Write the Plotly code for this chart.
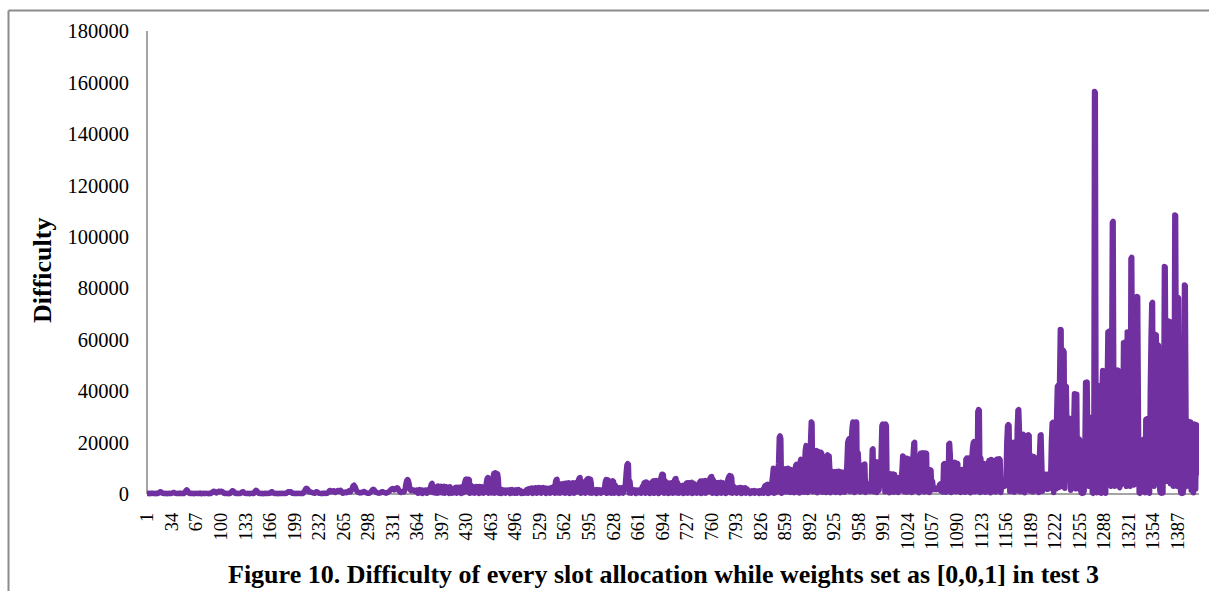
import plotly.graph_objects as go

# ---------------- data ----------------
tick_labels = ["1", "34", "67", "100", "133", "166", "199", "232", "265", "298", "331",
               "364", "397", "430", "463", "496", "529", "562", "595", "628", "661",
               "694", "727", "760", "793", "826", "859", "892", "925", "958", "991",
               "1024", "1057", "1090", "1123", "1156", "1189", "1222", "1255", "1288",
               "1321", "1354", "1387"]

y_ticks = [0, 20000, 40000, 60000, 80000, 100000, 120000, 140000, 160000, 180000]

difficulty = [
    # 1-33
    200,150,300,250,100,200,350,300,150,250,200,100,300,250,200,350,600,800,900,700,400,250,200,150,300,200,250,100,200,300,250,150,200,
    # 34-66
    300,450,600,500,400,250,200,150,300,200,250,350,200,150,300,250,200,400,800,1400,1600,1300,700,300,200,250,150,300,200,250,100,200,300,
    # 67-99
    250,200,150,300,200,350,250,100,200,300,250,150,200,300,250,200,100,250,300,200,350,600,900,1100,1000,800,500,400,600,900,1000,1100,900,
    # 100-132
    1000,1100,900,600,300,200,250,150,300,200,250,100,200,350,800,1200,1300,1100,600,300,200,250,150,300,200,250,200,300,700,900,800,500,300,
    # 133-165
    250,200,150,300,200,250,100,200,300,250,200,150,600,1100,1400,1300,900,400,250,200,150,300,200,250,100,200,300,250,150,200,300,250,200,
    # 166-198
    300,600,900,800,500,300,200,150,300,200,250,100,200,300,250,150,200,300,250,200,150,250,300,600,800,900,700,800,900,600,300,250,200,
    # 199-231
    300,200,250,150,200,300,250,200,150,300,250,200,400,900,1500,2000,2200,2000,1700,1000,800,900,700,600,500,400,350,300,500,800,900,700,400,
    # 232-264
    300,250,200,150,300,200,250,350,300,200,250,300,500,900,1300,1400,1200,900,1100,1300,1200,800,600,900,1200,1400,1300,1000,1300,1400,1100,600,300,
    # 265-297
    400,600,800,700,500,600,900,1200,1000,800,1200,1800,2600,3200,3400,3000,2400,1500,1000,800,600,500,400,600,500,700,800,1000,900,700,500,400,300,
    # 298-330
    300,250,400,600,900,1300,1700,1800,1600,1200,800,600,500,400,350,300,400,600,800,900,800,600,500,400,300,400,600,800,1000,1200,1500,1800,2000,
    # 331-363
    2100,1900,1600,1800,2100,2300,2400,2200,1600,1000,700,600,800,1000,900,800,1200,2500,4200,5300,5600,5200,4000,2200,1500,1300,1400,1600,1500,1200,1000,1300,1500,
    # 364-396
    1400,300,1500,1700,500,1400,1500,200,1400,1200,600,1500,1400,300,1500,1300,800,1800,2800,3800,4100,600,2900,2000,400,2000,2600,300,3100,2900,500,2900,3000,
    # 397-429
    2800,400,2900,3000,300,2500,2800,600,2600,2400,200,2800,2200,1200,300,1100,1600,500,2400,2600,300,2300,2600,700,2500,2400,200,2800,2700,500,3200,4600,5600,
    # 430-462
    5800,5600,800,5700,5500,300,3500,2200,500,2400,2800,300,2700,2900,600,2800,2600,200,2900,2700,500,2800,2500,300,1800,2200,700,4500,6000,6400,300,5800,4000,
    # 463-495
    3000,400,4000,6500,8000,300,8300,8100,600,7900,6000,300,2000,1600,200,1700,1400,500,1500,1300,300,1500,1400,800,1500,1600,200,1500,1700,400,1400,1500,300,
    # 496-528
    1500,1600,300,1500,1700,600,1400,1300,200,900,800,300,900,1100,400,1600,1800,300,1900,2100,700,2000,2300,200,2200,2100,500,2400,2200,300,2300,2500,600,
    # 529-561
    2400,2300,300,2300,2500,800,2200,2300,200,2000,2200,500,1800,2200,300,2400,2200,700,2800,3000,300,4800,5600,5700,400,4200,3200,300,3400,3800,600,3900,4100,
    # 562-594
    4000,300,4100,4200,700,4000,4300,200,3800,4000,500,4400,4100,300,4000,4300,800,4000,4500,5500,6200,6400,300,5000,4000,600,3500,3200,300,4500,5600,5900,6000,
    # 595-627
    5900,400,5700,4200,300,1800,1600,600,1400,1600,200,1700,1500,500,1600,1500,300,1500,1400,700,1700,2500,4800,5600,300,5500,5300,600,3500,3800,300,5000,5100,
    # 628-660
    4800,300,3500,3000,600,2400,2300,200,2400,2300,500,2300,2500,300,2300,2600,4000,8000,11200,11800,11500,400,5000,2500,300,1600,1500,700,1600,1500,200,1500,1400,
    # 661-693
    1500,500,1400,1500,300,2200,3000,800,4300,4500,300,4700,4500,600,4200,3800,200,3900,4400,500,5000,5100,300,5000,5200,700,4900,5100,200,4800,5200,6500,7600,
    # 694-726
    7700,7400,300,5200,4800,600,4300,4200,200,4300,4100,500,4400,4300,300,4500,5200,5900,6000,400,4500,3500,300,3000,3100,700,3100,3300,200,3200,3400,500,4200,
    # 727-759
    4300,300,4400,4300,600,4300,4500,200,4300,4100,500,3000,2800,300,3400,3800,700,4600,5000,200,5100,5000,500,5000,5200,300,5000,5100,800,5000,5500,6200,6700,
    # 760-792
    6800,300,5600,4800,500,4200,4300,200,4300,4400,600,4300,4500,300,4200,4300,700,3800,3500,200,3600,4500,5800,6700,7100,500,7000,6200,300,3200,2500,600,2400,
    # 793-825
    2200,300,2300,2100,700,2500,2200,200,2400,2200,500,2300,2400,300,2100,1800,600,1200,1000,200,900,1200,500,1100,1300,300,900,1100,700,1000,1100,200,1200,
    # 826-858
    1100,400,1500,1800,300,2800,3300,600,3500,3700,200,3400,3600,500,3500,4500,7000,10000,300,9800,8000,600,5500,7000,12000,22000,22600,21500,300,9000,9500,800,9200,
    # 859-891
    9800,9200,800,9500,10000,1200,9600,600,9400,7200,1500,6800,500,9000,11000,11500,900,11200,10800,400,12500,13500,1100,13400,13200,700,12000,17000,18800,18500,600,12000,1300,
    # 892-924
    12000,20000,28000,27500,900,17000,16800,1200,16500,16800,500,16600,16400,1400,16000,16200,15800,700,1000,800,5000,8000,600,14800,15200,1300,14800,9000,500,8400,8800,1100,8500,
    # 925-957
    8600,8200,600,8700,8500,1000,8800,8400,500,8600,8300,1400,8500,8200,700,3000,6000,12000,20000,21000,21500,1000,20800,21200,26000,28000,27800,600,27600,28000,27900,1200,16000,
    # 958-990
    10800,11000,800,10900,10600,1300,11200,11500,11600,600,4000,3000,1500,3800,3500,1000,3700,6000,17200,17500,900,12000,12200,12500,600,12400,12300,1400,4000,6000,15000,26500,27200,
    # 991-1023
    27000,26800,900,27200,26500,1200,8000,7600,500,7400,7800,1300,7500,7700,700,7600,6000,1100,6300,6100,600,6400,6200,1400,6300,9000,14800,14500,900,13800,13600,700,13900,
    # 1024-1056
    13800,13300,1000,13200,13400,600,13100,15000,19800,20100,1200,15000,9000,13800,14000,500,7000,15800,15600,1300,16000,15700,800,15900,15500,15800,1100,9300,9100,600,9400,9200,1500,
    # 1057-1089
    5000,2500,1800,2200,2000,1700,2300,2100,1900,3000,3800,1200,4100,3900,800,11500,11800,11200,700,11600,12000,1300,19400,19700,15000,600,12000,12200,1000,11900,12300,12100,900,
    # 1090-1122
    12000,11800,1000,7600,7400,600,8000,9500,1200,9300,9600,700,13500,13900,1400,14000,13700,13600,500,9000,14000,18000,20000,20400,900,15000,8000,1300,32000,32800,32500,600,14000,
    # 1123-1155
    10000,1000,9500,10200,11800,700,9800,10500,1300,11500,13000,12800,500,13400,13200,13000,1100,12500,6000,800,13400,13600,13500,1400,13700,13300,600,3500,3200,3600,3400,3000,3300,
    # 1156-1188
    6000,20000,26500,27000,26600,1000,15000,8000,12000,20000,19800,700,20200,20000,1300,25000,32500,32800,24000,900,8000,14000,23000,23200,22800,500,10000,9000,18000,22800,23000,22700,1200,
    # 1189-1221
    14500,14300,14700,800,14600,14400,1300,9000,7000,7200,6800,600,15000,22800,23000,12000,1100,7600,7500,2000,7700,7400,7600,1800,7500,7800,2200,6000,20000,27500,27800,600,27700,
    # 1222-1254
    27600,2000,30000,41800,42200,2500,44000,64000,63800,3000,55600,55800,55200,2200,42000,41800,20000,15000,29600,29400,8000,1500,14000,20000,27000,26800,39000,38600,2000,38800,6000,15000,21500,
    # 1255-1287
    21000,2000,500,300,800,400,1200,15000,43300,43000,43500,20000,3000,30000,26500,26000,8000,500,300,3000,156500,156000,20000,500,42000,41800,2000,42200,42000,300,40000,48000,47800,
    # 1288-1320
    20000,2000,300,25000,40000,63000,63200,30000,4000,3000,45000,105500,106000,30000,3000,48000,47800,10000,48200,48000,3000,2500,25000,3500,4000,20000,58800,58600,59000,10000,3000,63000,62800,
    # 1321-1353
    30000,4000,3000,91500,92000,40000,5000,3500,50000,45000,4000,76800,76600,30000,500,300,800,20900,21000,20500,21200,3000,500,29000,29200,28800,29000,2000,300,40000,60000,74000,74500,
    # 1354-1386
    20000,3000,45000,62000,61800,30000,58000,57800,5000,1000,400,300,800,500,30000,88400,88200,40000,5000,67000,66800,67200,30000,4000,45000,66800,67000,3000,25000,108500,108200,40000,3000,
    # 1387-1415
    76000,76200,30000,3000,500,300,800,400,2000,81300,81000,30000,3000,28000,28200,27800,3000,28000,1500,27000,26800,500,27200,27000,2000,26900,8000,12000,12500,
]

slots = list(range(1, len(difficulty) + 1))
tick_vals = [int(t) for t in tick_labels]

# ---------------- figure ----------------
W, H = 1209, 591
ML, MR, MT, MB = 147, 10, 31, 93
PW, PH = W - ML - MR, H - MT - MB
Y_TOP = 180000
Y_BOT = -Y_TOP * (PH / (PH - 4) - 1)  # a few pixels below zero so the thick line is not clipped

def px_x(px):
    return (px - ML) / PW

def px_y(py):
    return (H - MB - py) / PH

serif = "Liberation Serif, Times New Roman, serif"
purple = "#7030A0"
axis_gray = "#868686"

fig = go.Figure()
fig.add_trace(go.Scatter(
    x=slots, y=difficulty, mode="lines",
    line=dict(color=purple, width=5.5, simplify=False),
    hoverinfo="skip", showlegend=False,
))

fig.update_layout(
    width=W, height=H,
    margin=dict(l=ML, r=MR, t=MT, b=MB, pad=0),
    paper_bgcolor="white", plot_bgcolor="white",
    showlegend=False,
    xaxis=dict(
        range=[0.5, len(difficulty) + 0.5], autorange=False,
        tickmode="array", tickvals=tick_vals, ticktext=tick_labels,
        tickangle=-90, ticks="", showgrid=False, zeroline=False, showline=False,
        tickfont=dict(family=serif, size=18.5, color="black"),
        ticklabelstandoff=10,
    ),
    yaxis=dict(
        range=[Y_BOT, Y_TOP], autorange=False,
        tickmode="array", tickvals=y_ticks, ticktext=[str(v) for v in y_ticks],
        ticks="", showgrid=False, zeroline=False, showline=False,
        tickfont=dict(family=serif, size=20.5, color="black"),
        ticklabelstandoff=17,
    ),
    shapes=[
        # axis lines
        dict(type="line", xref="paper", yref="y", x0=0, x1=px_x(1199), y0=0, y1=0,
             line=dict(color=axis_gray, width=1.5), layer="below"),
        dict(type="line", xref="paper", yref="y", x0=0, x1=0, y0=0, y1=Y_TOP,
             line=dict(color=axis_gray, width=1.5), layer="below"),
        # chart-area frame (left and top edges)
        dict(type="line", xref="paper", yref="paper", x0=px_x(8.5), x1=px_x(8.5),
             y0=px_y(10.5), y1=px_y(595), line=dict(color="#8c8c8c", width=2)),
        dict(type="line", xref="paper", yref="paper", x0=px_x(8.5), x1=px_x(1212),
             y0=px_y(10.5), y1=px_y(10.5), line=dict(color="#8c8c8c", width=2)),
    ],
    annotations=[
        dict(text="<b>Difficulty</b>", xref="paper", yref="paper",
             x=px_x(42.5), y=px_y(270.5), textangle=-90, showarrow=False,
             xanchor="center", yanchor="middle",
             font=dict(family=serif, size=26, color="black")),
        dict(text="<b>Figure 10. Difficulty of every slot allocation while weights set as [0,0,1] in test 3</b>",
             xref="paper", yref="paper", x=px_x(663), y=px_y(574), showarrow=False,
             xanchor="center", yanchor="middle",
             font=dict(family=serif, size=26, color="black")),
    ],
)

# rounded joins, like the thick line of the original chart
round_joins = (
    "document.querySelectorAll('.scatterlayer path.js-line').forEach(function(p){"
    "p.style.strokeLinejoin='round';p.style.strokeLinecap='round';});"
)

fig.write_html("out.html", post_script=round_joins)
